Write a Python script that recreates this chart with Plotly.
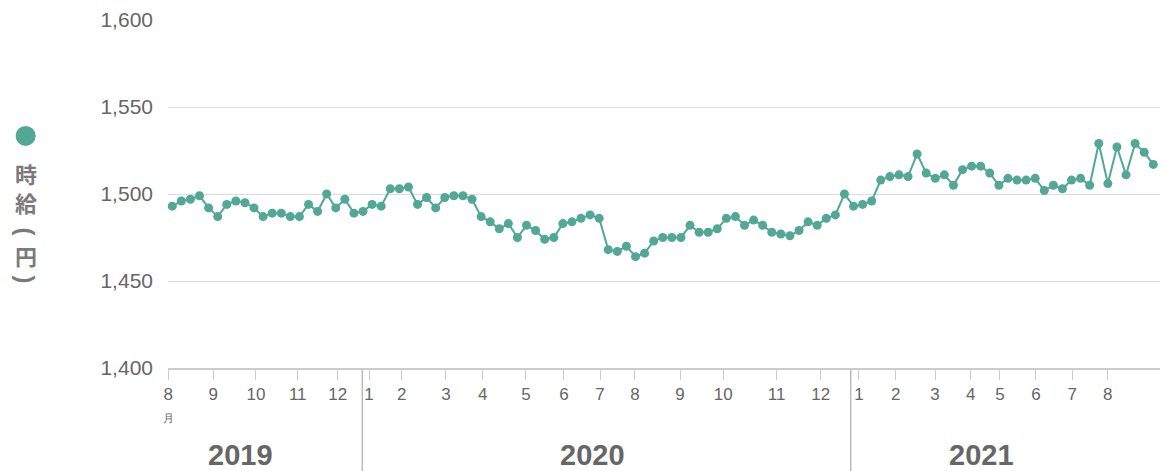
import plotly.graph_objects as go

# ---- data ----
wage = [1493, 1496, 1497, 1499, 1492, 1487, 1494, 1496, 1495, 1492, 1487, 1489, 1489, 1487, 1487,
        1494, 1490, 1500, 1492, 1497, 1489, 1490, 1494, 1493, 1503, 1503, 1504,
        1494, 1498, 1492, 1498, 1499, 1499, 1497, 1487, 1484, 1480, 1483, 1475, 1482, 1479,
        1474, 1475, 1483, 1484, 1486, 1488, 1486, 1468, 1467, 1470, 1464, 1466,
        1473, 1475, 1475, 1475, 1482, 1478, 1478, 1480, 1486, 1487, 1482, 1485, 1482, 1478,
        1477, 1476, 1479, 1484, 1482, 1486, 1488, 1500, 1493, 1494, 1496, 1508, 1510,
        1511, 1510, 1523, 1512, 1509, 1511, 1505, 1514, 1516, 1516, 1512, 1505, 1509, 1508,
        1508, 1509, 1502, 1505, 1503, 1508, 1509, 1505, 1529, 1506, 1527, 1511, 1529, 1524, 1517]
week_index = list(range(len(wage)))

month_labels = ["8<br><span style='font-size:11px'>月</span>", "9", "10", "11", "12",
                "1", "2", "3", "4", "5", "6", "7", "8", "9", "10", "11", "12",
                "1", "2", "3", "4", "5", "6", "7", "8"]
month_pos = [-0.44, 4.51, 9.21, 13.81, 18.21,
             21.66, 25.26, 30.13, 34.17, 38.94, 43.12, 47.09, 50.94, 55.90, 60.66, 66.54, 71.38,
             75.60, 79.64, 83.97, 87.90, 91.12, 95.08, 99.09, 102.98]

years = ["2019", "2020", "2021"]
year_label_pos = [7.5, 46.3, 89.1]
year_breaks = [20.92, 74.69]

y_ticks = [1400, 1450, 1500, 1550, 1600]
y_ticktext = ["1,400", "1,450", "1,500", "1,550", "1,600"]

TEAL = "#52a795"
GRAY = "#666666"

fig = go.Figure()
fig.add_trace(go.Scatter(
    x=week_index, y=wage, mode="lines+markers",
    line=dict(color=TEAL, width=2),
    marker=dict(color=TEAL, size=9),
    hoverinfo="y", showlegend=False,
))

shapes = []
for b in year_breaks:
    shapes.append(dict(type="line", xref="x", yref="paper", x0=b, x1=b, y0=-0.004, y1=-0.30,
                       line=dict(color="#bbbbbb", width=1.5), layer="above"))
# legend dot for y title
shapes.append(dict(type="circle", xref="paper", yref="paper", xsizemode="pixel", ysizemode="pixel",
                   xanchor=-0.1435, yanchor=0.667, x0=-10, x1=10, y0=-10, y1=10,
                   fillcolor=TEAL, line=dict(width=0)))

annotations = []
for lab, pos in zip(years, year_label_pos):
    annotations.append(dict(text=f"<b>{lab}</b>", x=pos, xref="x", y=-0.250, yref="paper",
                            showarrow=False, xanchor="center", yanchor="middle",
                            font=dict(size=29, color=GRAY, family="Liberation Sans, Arial")))

title_chars = ["時", "給", "円"]
title_y = [0.560, 0.477, 0.325]
for ch, yy in zip(title_chars, title_y):
    annotations.append(dict(text=f"<b>{ch}</b>", x=-0.1435, xref="paper", y=yy, yref="paper",
                            showarrow=False, xanchor="center", yanchor="middle",
                            font=dict(size=22, color="#7a7a7a", family="Noto Sans CJK JP")))
# vertical-writing parentheses (rotated)
for ch, yy in zip(["(", ")"], [0.393, 0.255]):
    annotations.append(dict(text=f"<b>{ch}</b>", x=-0.1435, xref="paper", y=yy, yref="paper",
                            showarrow=False, xanchor="center", yanchor="middle", textangle=90,
                            font=dict(size=24, color="#7a7a7a", family="Liberation Sans, Arial")))

fig.update_layout(
    width=1163, height=471,
    margin=dict(l=168, r=3, t=20, b=103),
    paper_bgcolor="white", plot_bgcolor="white",
    font=dict(family="Liberation Sans, Arial", color=GRAY),
    shapes=shapes, annotations=annotations,
    xaxis=dict(
        range=[-0.47, 108.74], tickmode="array", tickvals=month_pos, ticktext=month_labels,
        showgrid=False, zeroline=False, showline=True, linecolor="#cccccc", linewidth=1.5,
        ticks="outside", ticklen=10, tickcolor="#cccccc", tickwidth=1,
        tickfont=dict(size=17, color=GRAY),
    ),
    yaxis=dict(
        range=[1400, 1600], tickmode="array", tickvals=y_ticks, ticktext=y_ticktext,
        showgrid=True, gridcolor="#dddddd", gridwidth=1, zeroline=False, showline=False,
        ticks="", ticklabelstandoff=14, tickfont=dict(size=21, color=GRAY),
    ),
)

fig.write_html("out.html", config={"displayModeBar": False},
               post_script="document.body.style.margin='0';document.body.style.overflow='hidden';")
